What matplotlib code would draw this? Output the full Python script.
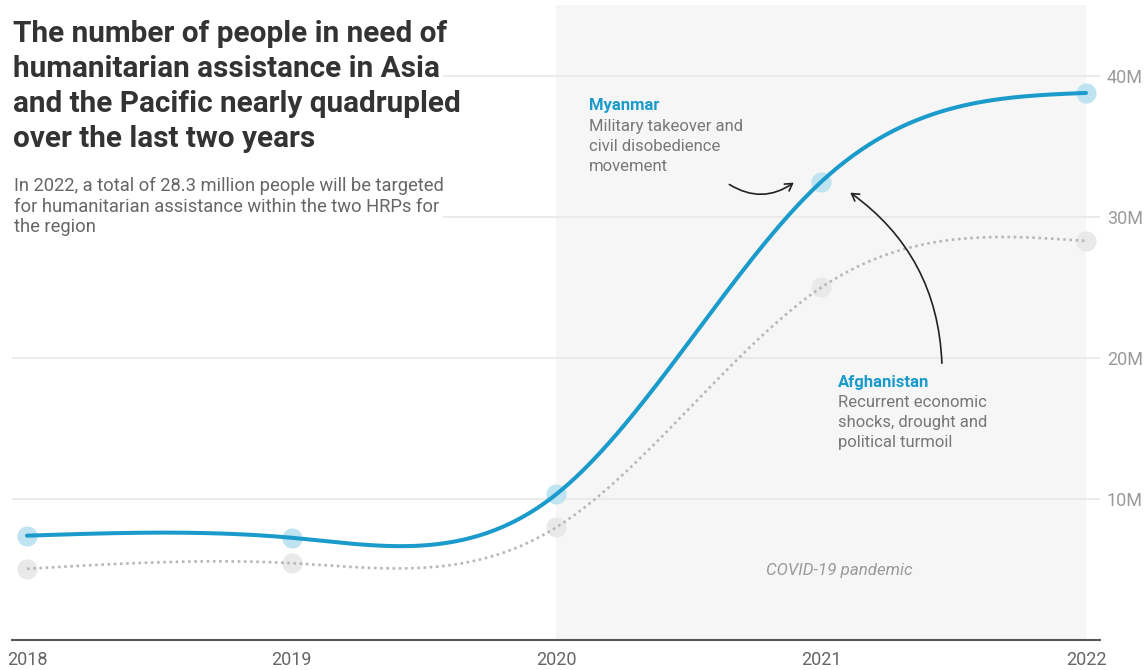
import numpy as np
import matplotlib
matplotlib.use("Agg")
import matplotlib.pyplot as plt
from matplotlib.patches import FancyArrowPatch, Rectangle

# ---------------- data ----------------
years = [2018, 2019, 2020, 2021, 2022]
people_in_need = [7.4, 7.25, 10.35, 32.5, 38.8]      # millions
people_targeted = [5.05, 5.45, 8.0, 25.0, 28.3]      # millions
y_ticks = [10, 20, 30, 40]
y_tick_labels = ["10M", "20M", "30M", "40M"]
x_tick_labels = ["2018", "2019", "2020", "2021", "2022"]

title_lines = ["The number of people in need of",
               "humanitarian assistance in Asia",
               "and the Pacific nearly quadrupled",
               "over the last two years"]
subtitle_lines = ["In 2022, a total of 28.3 million people will be targeted",
                  "for humanitarian assistance within the two HRPs for",
                  "the region"]
myanmar_lines = ["Military takeover and", "civil disobedience", "movement"]
afghan_lines = ["Recurrent economic", "shocks, drought and", "political turmoil"]

BLUE = "#1a9bcb"
W, H = 1146, 670


def natural_spline(x, y, n=400):
    x = np.asarray(x, float)
    y = np.asarray(y, float)
    k = len(x)
    h = np.diff(x)
    A = np.zeros((k, k))
    r = np.zeros(k)
    A[0, 0] = 1
    A[-1, -1] = 1
    for i in range(1, k - 1):
        A[i, i - 1] = h[i - 1]
        A[i, i] = 2 * (h[i - 1] + h[i])
        A[i, i + 1] = h[i]
        r[i] = 6 * ((y[i + 1] - y[i]) / h[i] - (y[i] - y[i - 1]) / h[i - 1])
    M = np.linalg.solve(A, r)
    xs = np.linspace(x[0], x[-1], n)
    idx = np.clip(np.searchsorted(x, xs) - 1, 0, k - 2)
    x0, x1 = x[idx], x[idx + 1]
    hh = x1 - x0
    a = (x1 - xs) / hh
    b = (xs - x0) / hh
    ys = (a * y[idx] + b * y[idx + 1]
          + ((a ** 3 - a) * M[idx] + (b ** 3 - b) * M[idx + 1]) * hh ** 2 / 6)
    return xs, ys


plt.rcParams["font.family"] = ["Roboto", "DejaVu Sans"]
fig = plt.figure(figsize=(W / 100, H / 100), dpi=100)
fig.patch.set_facecolor("white")
ax = fig.add_axes([12 / W, 30 / H, (1100 - 12) / W, (640 - 5) / H])
ax.set_facecolor("white")

x_px = lambda p: 2018 + (p - 27) / 264.75
ax.set_xlim(x_px(12), x_px(1100))
ax.set_ylim(0, 635 / 14.1)

ax.axvspan(2020, 2022, color="#f6f6f6", zorder=0, lw=0)
ax.text(2021.07, 4.9, "COVID-19 pandemic", style="italic", color="#9a9a9a",
        fontsize=12.2, ha="center", va="center")

for s in ["top", "left", "right"]:
    ax.spines[s].set_visible(False)
ax.spines["bottom"].set_color("#555555")
ax.spines["bottom"].set_linewidth(1.5)

ax.set_yticks(y_ticks)
ax.set_yticklabels(y_tick_labels)
ax.yaxis.tick_right()
ax.tick_params(axis="y", length=0, pad=5, labelsize=13, labelcolor="#9a9a9a")
ax.grid(axis="y", color="#e8e8e8", lw=1.2, zorder=0.5)
ax.set_axisbelow(True)

ax.set_xticks(years)
ax.set_xticklabels(x_tick_labels)
ax.tick_params(axis="x", length=0, pad=8, labelsize=13, labelcolor="#666666")

# markers
ax.plot(years, people_targeted, "o", ms=14.5, color="#e9e9e9", mec="none", zorder=2)
ax.plot(years, people_in_need, "o", ms=14.5, color="#bfe3f1", mec="none", zorder=2)

xs, ys = natural_spline(years, people_targeted)
ax.plot(xs, ys, color="#b8b8b8", lw=1.9, ls=(0, (1.0, 1.35)), dash_capstyle="butt",
        zorder=3)
xs, ys = natural_spline(years, people_in_need)
ax.plot(xs, ys, color=BLUE, lw=2.9, zorder=4, solid_capstyle="round")

# arrows
y_px = lambda p: (640 - p) / 14.1
a1 = FancyArrowPatch((x_px(727), y_px(183)), (x_px(796), y_px(181)),
                     connectionstyle="arc3,rad=0.35", arrowstyle="->,head_length=5,head_width=3",
                     color="#222222", lw=1.2, zorder=5)
ax.add_patch(a1)
a2 = FancyArrowPatch((x_px(942), y_px(366)), (x_px(848), y_px(191)),
                     connectionstyle="arc3,rad=0.25", arrowstyle="->,head_length=5,head_width=3",
                     color="#222222", lw=1.2, zorder=5)
ax.add_patch(a2)

# annotations (figure pixel coordinates)
def ftext(px, py, s, **kw):
    fig.text(px / W, 1 - py / H, s, va="baseline", ha="left", **kw)

ftext(589, 110, "Myanmar", color=BLUE, fontsize=12, fontweight="bold")
for i, line in enumerate(myanmar_lines):
    ftext(589, 131 + 20 * i, line, color="#777777", fontsize=12)
ftext(838, 387, "Afghanistan", color=BLUE, fontsize=12, fontweight="bold")
for i, line in enumerate(afghan_lines):
    ftext(838, 407 + 20 * i, line, color="#777777", fontsize=12)

# white block behind the heading
fig.patches.append(Rectangle((0, 1 - 245 / H), 443 / W, 245 / H,
                             transform=fig.transFigure, facecolor="white",
                             edgecolor="none", zorder=1))

for i, line in enumerate(title_lines):
    ftext(13, 42 + 35 * i, line, color="#333333", fontsize=21.4, fontweight="bold")
for i, line in enumerate(subtitle_lines):
    ftext(14, 191 + 20.5 * i, line, color="#666666", fontsize=13.2)

fig.savefig("out.png", dpi=100, facecolor="white")
